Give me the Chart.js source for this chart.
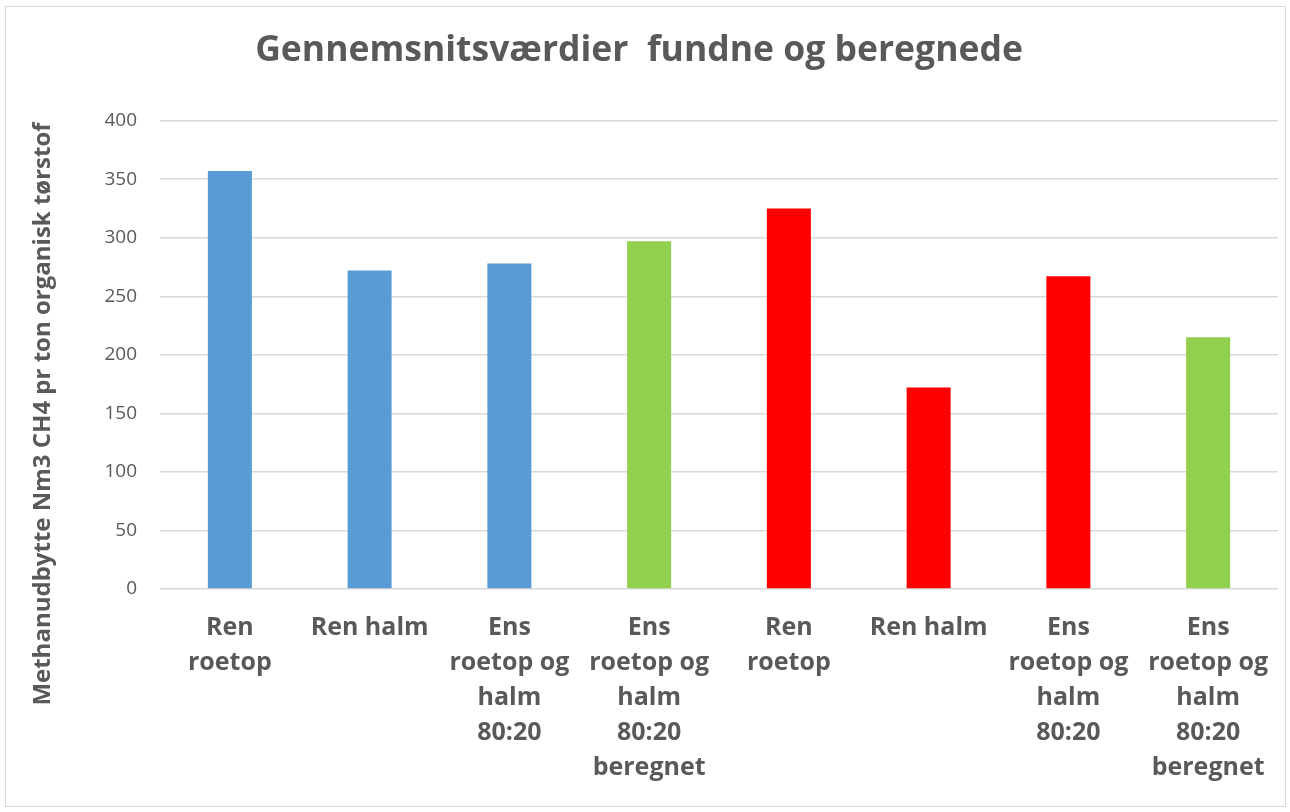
<!DOCTYPE html>
<html>
<head>
<meta charset="utf-8">
<title>Gennemsnitsværdier fundne og beregnede</title>
<script src="https://cdn.jsdelivr.net/npm/chart.js@4.4.0/dist/chart.umd.min.js"></script>
<style>
    html, body { margin: 0; padding: 0; background: #fff; }
    #frame {
        position: absolute; left: 5px; top: 6px;
        width: 1279px; height: 799px;
        border: 1px solid #d9d9d9;
    }
    #wrap { position: absolute; left: 0; top: 0; width: 1290px; height: 812px; }
</style>
</head>
<body>
<div id="frame"></div>
<div id="wrap"><canvas id="chart" width="1290" height="812"></canvas></div>
<script>
// Chart data
const categories = [
    ['Ren', 'roetop'],
    ['Ren halm'],
    ['Ens', 'roetop og', 'halm', '80:20'],
    ['Ens', 'roetop og', 'halm', '80:20', 'beregnet'],
    ['Ren', 'roetop'],
    ['Ren halm'],
    ['Ens', 'roetop og', 'halm', '80:20'],
    ['Ens', 'roetop og', 'halm', '80:20', 'beregnet']
];
const values = [357, 272, 278, 297, 325, 172, 267, 215];
// which group each bar belongs to (drives the colour)
const groups = ['serie1', 'serie1', 'serie1', 'beregnet', 'serie2', 'serie2', 'serie2', 'beregnet'];
const yTicks = [0, 50, 100, 150, 200, 250, 300, 350, 400];

const titleText = 'Gennemsnitsværdier  fundne og beregnede';
const yTitleText = 'Methanudbytte Nm3 CH4 pr ton organisk tørstof';

const groupColors = {
    serie1: '#5b9bd5',
    serie2: '#ff0000',
    beregnet: '#92d050'
};

const textColor = '#595959';
const fontFamily = '"Open Sans", "DejaVu Sans", sans-serif';

/**
 * Draws the rotated y axis title, centred like the original
 */
const yTitlePlugin = {
    id: 'yTitle',
    afterDraw(chart) {
        const ctx = chart.ctx;
        ctx.save();
        ctx.translate(43, 414);
        ctx.rotate(-Math.PI / 2);
        ctx.font = 'bold 24px ' + fontFamily;
        ctx.fillStyle = textColor;
        ctx.textAlign = 'center';
        ctx.textBaseline = 'middle';
        ctx.fillText(yTitleText, 0, 0);
        ctx.restore();
    }
};

new Chart(document.getElementById('chart'), {
    type: 'bar',
    data: {
        labels: categories,
        datasets: [{
            data: values,
            backgroundColor: groups.map(g => groupColors[g]),
            borderWidth: 0,
            barPercentage: 0.315,
            categoryPercentage: 1
        }]
    },
    options: {
        responsive: false,
        animation: false,
        layout: { padding: { top: 0, right: 12, bottom: 0, left: 0 } },
        plugins: {
            legend: { display: false },
            tooltip: { enabled: false },
            title: {
                display: true,
                text: titleText,
                color: textColor,
                font: { family: fontFamily, size: 35.5, weight: 'bold', lineHeight: 1.2 },
                padding: { top: 30, bottom: 48 }
            }
        },
        scales: {
            x: {
                grid: { display: false, drawTicks: false },
                border: { display: false },
                ticks: {
                    color: textColor,
                    font: { family: fontFamily, size: 25, weight: 'bold', lineHeight: 1.4 },
                    padding: 21,
                    maxRotation: 0,
                    autoSkip: false
                },
                afterFit(scale) { scale.height = 812 - 589; }
            },
            y: {
                min: 0,
                max: 400,
                afterBuildTicks(scale) { scale.ticks = yTicks.map(v => ({ value: v })); },
                grid: { color: '#d9d9d9', lineWidth: 1.5, drawTicks: false },
                border: { display: false },
                ticks: {
                    color: textColor,
                    font: { family: fontFamily, size: 19 },
                    padding: 23
                },
                afterFit(scale) { scale.width = 160; }
            }
        }
    },
    plugins: [yTitlePlugin]
});
</script>
</body>
</html>
